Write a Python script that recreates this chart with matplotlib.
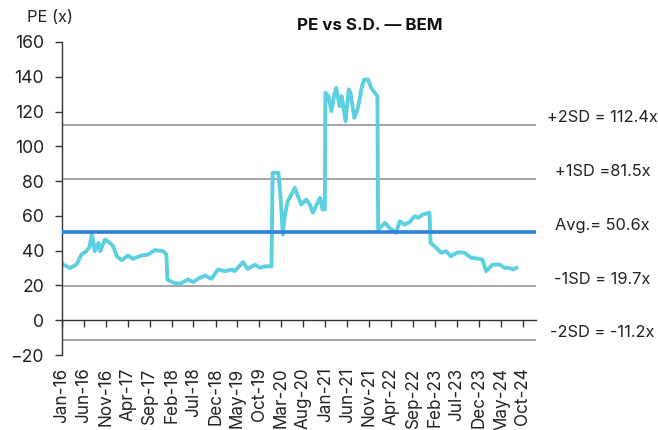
import pandas as pd
import numpy as np
import matplotlib
matplotlib.use("Agg")
import matplotlib.pyplot as plt
import matplotlib.dates as mdates

# PE series
dates = ["2016-01-01", "2016-01-10", "2016-02-25", "2016-04-10", "2016-05-15", "2016-06-18",
         "2016-07-10", "2016-07-25", "2016-08-03", "2016-08-15", "2016-09-10", "2016-09-22",
         "2016-10-25", "2016-11-28", "2016-12-22", "2017-01-15", "2017-02-18", "2017-04-03",
         "2017-05-06", "2017-07-06", "2017-08-21", "2017-10-06", "2017-12-03", "2017-12-25",
         "2018-01-01", "2018-02-13", "2018-03-28", "2018-05-25", "2018-06-28", "2018-08-01",
         "2018-09-18", "2018-11-03", "2018-12-18", "2019-02-03", "2019-03-22", "2019-04-12",
         "2019-06-10", "2019-07-12", "2019-09-01", "2019-10-03", "2019-11-10", "2019-12-15",
         "2019-12-24", "2020-01-01", "2020-02-10", "2020-02-25", "2020-03-12", "2020-03-25",
         "2020-04-15", "2020-05-10", "2020-06-03", "2020-06-25", "2020-07-18", "2020-08-21",
         "2020-09-15", "2020-10-06", "2020-11-01", "2020-11-25", "2020-12-12", "2020-12-28",
         "2021-01-01", "2021-01-22", "2021-02-12", "2021-03-06", "2021-03-18", "2021-04-09",
         "2021-04-24", "2021-05-21", "2021-06-12", "2021-06-24", "2021-07-21", "2021-08-15",
         "2021-09-09", "2021-09-27", "2021-10-24", "2021-11-15", "2021-12-09", "2021-12-28",
         "2022-01-02", "2022-02-18", "2022-03-21", "2022-05-06", "2022-06-01", "2022-07-03",
         "2022-08-09", "2022-09-12", "2022-10-06", "2022-11-09", "2022-12-24", "2023-01-01",
         "2023-01-28", "2023-03-15", "2023-04-18", "2023-05-21", "2023-07-09", "2023-08-24",
         "2023-10-09", "2023-12-06", "2023-12-27", "2024-01-21", "2024-03-06", "2024-04-24",
         "2024-05-28", "2024-07-01", "2024-07-25", "2024-08-18"]
pe = [33.0, 32.0, 30.0, 32.0, 37.8, 39.7,
      42.0, 49.3, 46.4, 39.7, 44.5, 39.7,
      46.4, 44.5, 42.5, 36.8, 34.5, 37.2,
      35.3, 37.2, 37.8, 40.3, 39.7, 37.8,
      23.4, 21.5, 20.9, 23.4, 21.9, 23.8,
      25.7, 23.8, 29.2, 28.2, 29.2, 28.2,
      33.4, 29.5, 32.0, 30.1, 31.0, 31.0,
      31.0, 84.8, 84.8, 71.3, 49.3, 59.8,
      68.4, 72.3, 76.1, 71.3, 66.5, 69.4,
      66.5, 61.8, 66.5, 70.4, 63.7, 63.7,
      130.8, 128.8, 120.2, 130.8, 133.6, 123.1,
      128.8, 114.4, 132.7, 130.8, 116.4, 122.1,
      133.6, 138.4, 138.4, 133.6, 130.8, 128.8,
      52.2, 56.0, 53.1, 50.3, 56.9, 55.0,
      56.4, 59.8, 58.9, 60.8, 61.8, 44.5,
      42.6, 38.8, 39.7, 36.8, 39.1, 38.8,
      35.9, 35.3, 34.7, 28.2, 32.0, 32.0,
      30.1, 30.1, 29.2, 30.1]

# mean and standard deviation bands
sd_values = [112.4, 81.5, 19.7, -11.2]
sd_labels = ["+2SD = 112.4x", "+1SD =81.5x", "-1SD = 19.7x", "-2SD = -11.2x"]
avg_value = 50.6
avg_label = "Avg.= 50.6x"

yticks = [-20, 0, 20, 40, 60, 80, 100, 120, 140, 160]

plt.rcParams['font.family'] = ['Inter', 'DejaVu Sans']

x = pd.to_datetime(dates)

fig = plt.figure(figsize=(6.58, 4.30), dpi=100)
ax = fig.add_axes([62 / 658, 1 - 355 / 430, (536 - 62) / 658, (355 - 42) / 430])

for v in sd_values:
    ax.axhline(v, color='#8c8c8c', lw=1.1, zorder=1)
ax.plot(x, pe, color='#5ccfe0', lw=2.8, zorder=2, solid_joinstyle='round')
ax.axhline(avg_value, color='#2f7fdc', lw=2.6, zorder=3)

ax.set_xlim(pd.Timestamp("2016-01-01"), pd.Timestamp("2025-01-01"))
ax.set_ylim(-20, 160)
ax.set_yticks(yticks)

xticks = pd.date_range("2016-01-01", "2024-10-01", freq="5MS")
ax.set_xticks(xticks)
ax.xaxis.set_major_formatter(mdates.DateFormatter("%b-%y"))

# x axis sits on zero, labels pushed below the plot
ax.spines['bottom'].set_position(('data', 0))
ax.spines['top'].set_visible(False)
ax.spines['right'].set_visible(False)
for s in ['left', 'bottom']:
    ax.spines[s].set_color('#333333')
    ax.spines[s].set_linewidth(1.0)
ax.tick_params(axis='x', direction='out', length=5, width=1, color='#333333',
               pad=29, labelsize=12.3, labelrotation=90, labelcolor='#222222')
ax.tick_params(axis='y', direction='out', length=5, width=1, color='#333333',
               pad=8, labelsize=12.7, labelcolor='#222222')

# right-hand band labels
ty = ax.get_yaxis_transform()
for v, lab in zip(sd_values + [avg_value], sd_labels + [avg_label]):
    ax.annotate(lab, xy=(1.14, v), xycoords=ty, xytext=(0, 5), textcoords='offset points',
                ha='center', va='center', fontsize=11.8, color='#222222', annotation_clip=False)

fig.text(27 / 658, 1 - 18 / 430, "PE (x)", ha='left', va='center', fontsize=11.8, color='#222222')
fig.text(370 / 658, 1 - 26 / 430, "PE vs S.D. — BEM", ha='center', va='center',
         fontsize=12.2, fontweight='bold', color='#111111')

plt.savefig("out.png", dpi=100)
